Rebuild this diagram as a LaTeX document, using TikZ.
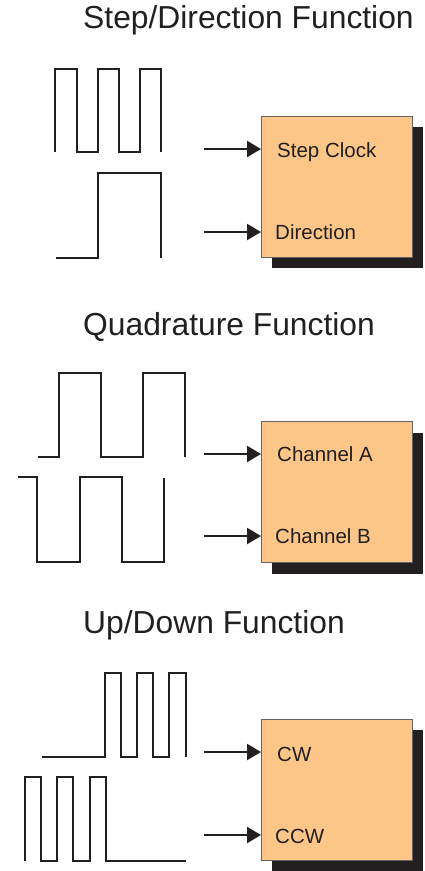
\documentclass[tikz,border=0pt]{standalone}
\usepackage{fontspec}
\setmainfont{Liberation Sans}
\usetikzlibrary{arrows.meta}
\usetikzlibrary{shadows}
\definecolor{inkc}{HTML}{231F20}
\definecolor{boxc}{HTML}{FBC688}

\tikzset{
	wave/.style={line width=2.2pt,draw=inkc},
	sig/.style={line width=2.2pt,draw=inkc,-{Triangle[length=14pt,width=16pt]}},
	ctrl/.style={draw=inkc!70,line width=0.6pt,fill=boxc,minimum width=151pt,minimum height=141pt,inner sep=0pt,outer sep=0pt,
		drop shadow={shadow xshift=11pt,shadow yshift=-11pt,opacity=1,fill=inkc}},
	heading/.style={anchor=base west,inner sep=0pt,text=inkc,font=\fontsize{31.8}{36}\selectfont},
	pin/.style={anchor=base west,inner sep=0pt,text=inkc,font=\fontsize{20.5}{24}\selectfont}
}

\begin{document}
\begin{tikzpicture}[x=1pt,y=-1pt]
	\useasboundingbox (0,0) rectangle (425,871);

	% step / direction
	\node[heading] (titleA) at (83,28) {Step/Direction Function};
	\draw[wave] (55,152) -- (55,69) -- (77,69) -- (77,152) -- (98,152) -- (98,69) -- (119,69) -- (119,152) -- (140,152) -- (140,69) -- (161,69) -- (161,152);
	\draw[wave] (56,258) -- (98,258) -- (98,173) -- (161,173) -- (161,258);
	\node[ctrl] (sdbox) at (336.5,186.5) {};
	\node[pin] (clk) at (277,157) {Step Clock};
	\node[pin] (dir) at (275,239) {Direction};
	\coordinate (clkin) at (204,149);
	\coordinate (dirin) at (204,232);
	\draw[sig] (clkin) -- (clkin -| sdbox.west);
	\draw[sig] (dirin) -- (dirin -| sdbox.west);

	% quadrature
	\node[heading] (titleB) at (83,335) {Quadrature Function};
	\draw[wave] (38,457) -- (59,457) -- (59,373) -- (101,373) -- (101,457) -- (143,457) -- (143,373) -- (185,373) -- (185,457);
	\draw[wave] (18,477) -- (37,477) -- (37,562) -- (80,562) -- (80,477) -- (122,477) -- (122,562) -- (164,562) -- (164,478);
	\node[ctrl] (quadbox) at (336.5,492) {};
	\node[pin] (chA) at (277,461) {Channel A};
	\node[pin] (chB) at (275,543) {Channel B};
	\coordinate (chAin) at (204,454);
	\coordinate (chBin) at (204,536);
	\draw[sig] (chAin) -- (chAin -| quadbox.west);
	\draw[sig] (chBin) -- (chBin -| quadbox.west);

	% up / down
	\node[heading] (titleC) at (83,633) {Up/Down Function};
	\draw[wave] (42,757) -- (105,757) -- (105,673) -- (121,673) -- (121,757) -- (137,757) -- (137,673) -- (153,673) -- (153,757) -- (169,757) -- (169,673) -- (186,673) -- (186,757);
	\draw[wave] (25,861) -- (25,777) -- (41,777) -- (41,861) -- (57,861) -- (57,777) -- (73,777) -- (73,861) -- (90,861) -- (90,777) -- (106,777) -- (106,861) -- (186,861);
	\node[ctrl] (udbox) at (336.5,789.5) {};
	\node[pin] (cw) at (277,761) {CW};
	\node[pin] (ccw) at (275,843) {CCW};
	\coordinate (cwin) at (204,752);
	\coordinate (ccwin) at (204,835);
	\draw[sig] (cwin) -- (cwin -| udbox.west);
	\draw[sig] (ccwin) -- (ccwin -| udbox.west);
\end{tikzpicture}
\end{document}
